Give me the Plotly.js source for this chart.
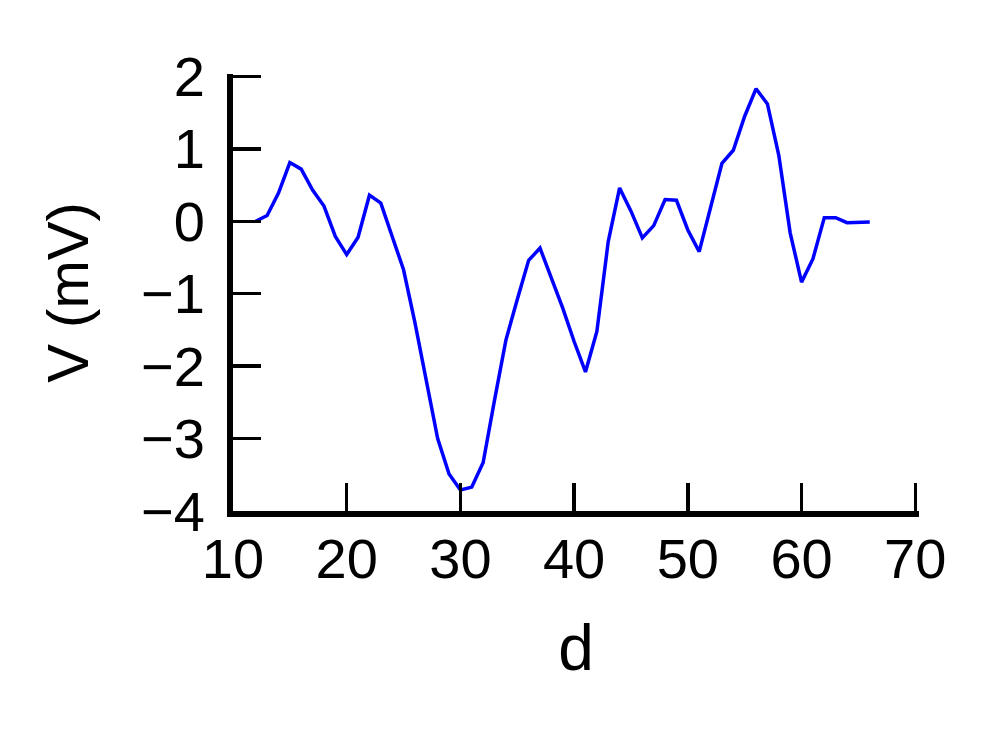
<!DOCTYPE html>
<html>
<head>
<meta charset="utf-8">
<script src="https://cdn.plot.ly/plotly-3.0.1.min.js"></script>
<style>html,body{margin:0;padding:0;background:#fff;}#chart{width:997px;height:737px;}</style>
</head>
<body>
<div id="chart"></div>
<script>
const dValues = [12,13,14,15,16,17,18,19,20,21,22,23,24,25,26,27,28,29,30,31,32,33,34,35,36,37,38,39,40,41,42,43,44,45,46,47,48,49,50,51,52,53,54,55,56,57,58,59,60,61,62,63,64,65,66];
const voltage = [0.00,0.08,0.39,0.81,0.72,0.43,0.21,-0.21,-0.46,-0.22,0.36,0.25,-0.21,-0.67,-1.40,-2.20,-3.00,-3.49,-3.71,-3.67,-3.33,-2.47,-1.64,-1.08,-0.54,-0.37,-0.78,-1.20,-1.66,-2.08,-1.52,-0.28,0.46,0.14,-0.23,-0.06,0.30,0.29,-0.12,-0.42,0.19,0.80,0.98,1.45,1.83,1.62,0.91,-0.16,-0.84,-0.52,0.05,0.05,-0.02,-0.02,-0.01];
const xTicks = [10,20,30,40,50,60,70];
const yTicks = [-4,-3,-2,-1,0,1,2];

const font = "Liberation Sans, Arial, sans-serif";
const trace = {
  x: dValues, y: voltage, type: 'scatter', mode: 'lines',
  line: {color: '#0000ff', width: 3.5}
};
const axisCommon = {
  showline: true, linewidth: 6, linecolor: '#000',
  ticks: 'inside', ticklen: 28, tickwidth: 3.5, tickcolor: '#000',
  showgrid: false, zeroline: false,
  tickfont: {family: font, size: 56, color: '#000'}
};
const layout = {
  width: 997, height: 737,
  margin: {l: 233, r: 78, t: 74, b: 226, autoexpand: false},
  paper_bgcolor: '#fff', plot_bgcolor: '#fff',
  showlegend: false,
  xaxis: Object.assign({}, axisCommon, {
    range: [10, 70.33], tickvals: xTicks, ticktext: xTicks.map(String),
    ticklabelstandoff: -6,
    title: {text: 'd', font: {family: font, size: 64, color: '#000'}, standoff: 38}
  }),
  yaxis: Object.assign({}, axisCommon, {
    range: [-4, 2.033], tickvals: yTicks, ticktext: yTicks.map(v => v < 0 ? '\u2212' + Math.abs(v) : String(v)),
    ticklabelstandoff: 11,
    title: {text: 'V (mV)', font: {family: font, size: 58, color: '#000'}, standoff: 36}
  })
};
Plotly.newPlot('chart', [trace], layout, {displayModeBar: false, staticPlot: true});
</script>
</body>
</html>
